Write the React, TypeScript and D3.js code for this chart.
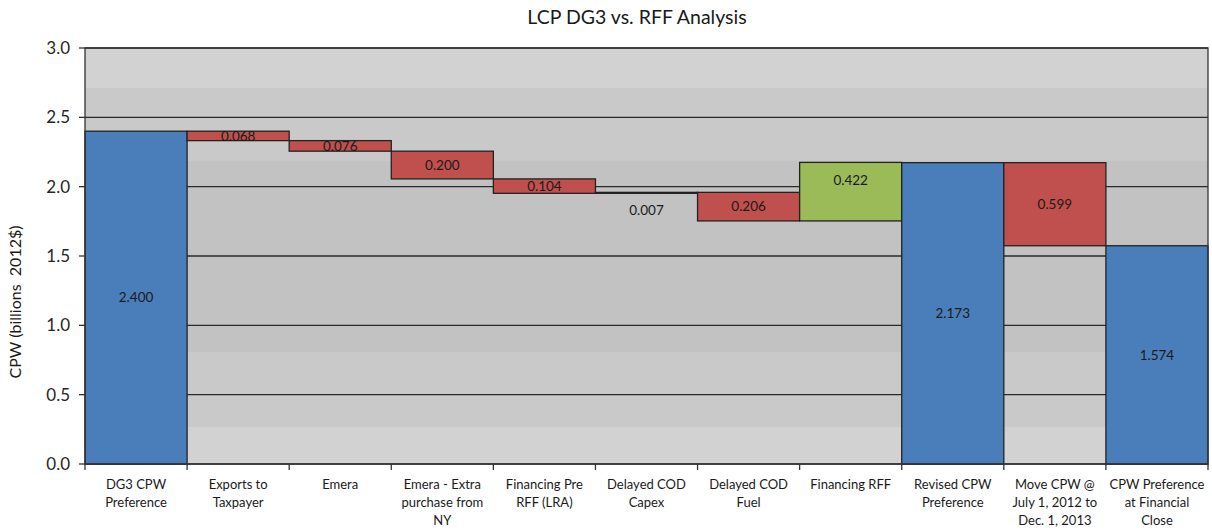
import React from "react";
import * as d3 from "d3";

const categories: string[] = [
  "DG3 CPW\nPreference",
  "Exports to\nTaxpayer",
  "Emera",
  "Emera - Extra\npurchase from\nNY",
  "Financing Pre\nRFF (LRA)",
  "Delayed COD\nCapex",
  "Delayed COD\nFuel",
  "Financing RFF",
  "Revised CPW\nPreference",
  "Move CPW @\nJuly 1, 2012 to\nDec. 1, 2013",
  "CPW Preference\nat Financial\nClose",
];
// "total" bars show an absolute value; "delta" bars change the running value
const kinds: string[] = ["total", "delta", "delta", "delta", "delta", "delta", "delta", "delta", "total", "delta", "total"];
const values: number[] = [2.4, -0.068, -0.076, -0.2, -0.104, 0.007, -0.206, 0.422, 2.173, -0.599, 1.574];
const labels: string[] = ["2.400", "0.068", "0.076", "0.200", "0.104", "0.007", "0.206", "0.422", "2.173", "0.599", "1.574"];
const yTicks: number[] = [0, 0.5, 1.0, 1.5, 2.0, 2.5, 3.0];

const labelDy: number[] = [0, 0, 0, 0, 0, 17, 0, -11, 0, 0, 0];

const W = 1212;
const H = 531;
const M = { left: 85, right: 4, top: 48, bottom: 67 };

export default function App() {
  const x = d3
    .scaleBand<number>()
    .domain(d3.range(categories.length))
    .range([M.left, W - M.right])
    .paddingInner(0)
    .paddingOuter(0);
  const y = d3.scaleLinear().domain([0, 3]).range([H - M.bottom, M.top]);

  let running = 0;
  const bars = values.map((v, i) => {
    let lo: number, hi: number, color: string;
    if (kinds[i] === "total") {
      lo = 0;
      hi = v;
      running = v;
      color = "#4A7EBB";
    } else {
      const start = running;
      const end = running + v;
      lo = Math.min(start, end);
      hi = Math.max(start, end);
      running = end;
      color = v >= 0 && v > 0.01 ? "#9BBB59" : "#C0504D";
    }
    return { i, lo, hi, color };
  });

  const font = "Lato, 'Open Sans', 'DejaVu Sans', sans-serif";
  const plotL = M.left;
  const plotR = W - M.right;
  const plotT = M.top;
  const plotB = H - M.bottom;

  return (
    <svg width={W} height={H} style={{ position: "absolute", left: 0, top: 0, background: "#fff" }} fontFamily={font}>
      <defs>
        <linearGradient id="bg" x1="0" y1="0" x2="0" y2="1">
          <stop offset="0" stopColor="#d2d2d2" />
          <stop offset="0.095" stopColor="#d2d2d2" />
          <stop offset="0.097" stopColor="#c9c9c9" />
          <stop offset="0.27" stopColor="#c9c9c9" />
          <stop offset="0.272" stopColor="#c2c2c2" />
          <stop offset="0.73" stopColor="#c2c2c2" />
          <stop offset="0.732" stopColor="#c9c9c9" />
          <stop offset="0.91" stopColor="#c9c9c9" />
          <stop offset="0.912" stopColor="#d2d2d2" />
          <stop offset="1" stopColor="#d2d2d2" />
        </linearGradient>
      </defs>
      <text x={637} y={24} textAnchor="middle" fontSize={19.5} fill="#1a1a1a">
        LCP DG3 vs. RFF Analysis
      </text>
      <rect x={plotL} y={plotT} width={plotR - plotL} height={plotB - plotT} fill="url(#bg)" />
      {yTicks.map((t) => (
        <line key={"g" + t} x1={plotL} x2={plotR} y1={y(t)} y2={y(t)} stroke="#2a2a2a" strokeWidth={1.3} />
      ))}
      {bars.map((b) => (
        <rect
          key={"b" + b.i}
          x={x(b.i)!}
          y={y(b.hi)}
          width={x.bandwidth()}
          height={Math.max(0.5, y(b.lo) - y(b.hi))}
          fill={b.color}
          stroke="#222"
          strokeWidth={1.3}
        />
      ))}
      {bars.map((b) => (
        <text
          key={"l" + b.i}
          x={x(b.i)! + x.bandwidth() / 2}
          y={(y(b.lo) + y(b.hi)) / 2 + labelDy[b.i]}
          dy="0.35em"
          textAnchor="middle"
          fontSize={13.5}
          fill="#1a1a1a"
        >
          {labels[b.i]}
        </text>
      ))}
      <rect x={plotL} y={plotT} width={plotR - plotL} height={plotB - plotT} fill="none" stroke="#333" strokeWidth={1.3} />
      {/* y axis */}
      {yTicks.map((t) => (
        <g key={"yt" + t}>
          <line x1={plotL - 6} x2={plotL} y1={y(t)} y2={y(t)} stroke="#333" strokeWidth={1.3} />
          <text x={plotL - 15} y={y(t)} dy="0.35em" textAnchor="end" fontSize={17} fill="#262626">
            {t.toFixed(1)}
          </text>
        </g>
      ))}
      <text
        transform={`translate(21,${(plotT + plotB) / 2 + 46}) rotate(-90)`}
        textAnchor="middle"
        fontSize={16}
        fill="#1a1a1a"
        style={{ whiteSpace: "pre" }}
      >
        {"CPW (billions\u00A0 2012$)"}
      </text>
      {/* x axis */}
      {d3.range(categories.length + 1).map((i) => {
        const xx = i < categories.length ? x(i)! : plotR;
        return <line key={"xt" + i} x1={xx} x2={xx} y1={plotB} y2={plotB + 6} stroke="#333" strokeWidth={1.3} />;
      })}
      {categories.map((c, i) => (
        <text key={"c" + i} x={x(i)! + x.bandwidth() / 2} y={plotB + 25} textAnchor="middle" fontSize={13} fill="#1a1a1a">
          {c.split("\n").map((line, k) => (
            <tspan key={k} x={x(i)! + x.bandwidth() / 2} dy={k === 0 ? 0 : 18}>
              {line}
            </tspan>
          ))}
        </text>
      ))}
    </svg>
  );
}
